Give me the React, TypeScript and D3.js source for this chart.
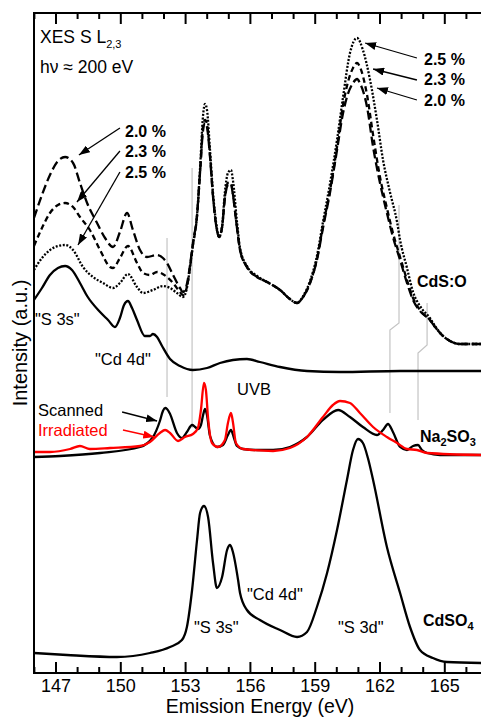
import React from 'react';
import * as d3 from 'd3';

// ---------- DATA (energy eV, intensity a.u.) ----------
const cdsO_20: [number, number][] = [
  [145.98, 455], [146.35, 478], [146.72, 498], [147.09, 512], [147.42, 516], [147.79, 510], [148.11, 490],
  [148.44, 470], [148.9, 450], [149.27, 435], [149.64, 426], [149.96, 441], [150.29, 460], [150.56, 443],
  [150.89, 423], [151.21, 416], [151.68, 418], [151.95, 415], [152.14, 410], [152.42, 398], [152.74, 385],
  [152.88, 381], [153.06, 389], [153.2, 407], [153.34, 430], [153.53, 458], [153.67, 501], [153.81, 543],
  [153.9, 550], [153.99, 546], [154.13, 516], [154.27, 476], [154.45, 443], [154.55, 436], [154.69, 446],
  [154.82, 475], [154.96, 488], [155.1, 489], [155.19, 478], [155.38, 445], [155.52, 423], [155.84, 406],
  [156.31, 396], [156.77, 391], [157.37, 383], [157.83, 374], [158.16, 370], [158.44, 376], [158.76, 390],
  [159.08, 413], [159.36, 445], [159.69, 481], [160.01, 523], [160.29, 560], [160.47, 576], [160.75, 590],
  [160.94, 594], [161.07, 590], [161.4, 566], [161.68, 526], [162.0, 490], [162.32, 460], [162.6, 436],
  [162.93, 413], [163.25, 390], [163.53, 373], [163.85, 362], [164.31, 353], [164.55, 346], [164.87, 338],
  [165.24, 332], [165.7, 329], [166.68, 329],
];

const cdsO_23: [number, number][] = [
  [145.98, 427], [146.35, 445], [146.72, 460], [147.09, 468], [147.42, 470], [147.79, 466], [148.11, 456],
  [148.57, 443], [149.04, 423], [149.5, 406], [149.64, 405], [149.96, 415], [150.33, 427], [150.75, 410],
  [151.03, 400], [151.35, 398], [151.68, 401], [152.14, 396], [152.42, 390], [152.74, 381], [152.88, 378],
  [153.06, 386], [153.2, 405], [153.34, 428], [153.53, 457], [153.67, 501], [153.81, 547], [153.9, 553],
  [153.99, 549], [154.13, 518], [154.27, 477], [154.45, 443], [154.55, 436], [154.69, 446], [154.82, 476],
  [154.96, 490], [155.1, 490], [155.19, 479], [155.38, 445], [155.52, 423], [155.84, 406], [156.31, 396],
  [156.77, 391], [157.37, 383], [157.83, 374], [158.16, 370], [158.44, 376], [158.76, 390], [159.08, 414],
  [159.36, 447], [159.69, 483], [160.01, 526], [160.29, 568], [160.47, 587], [160.75, 605], [160.94, 610],
  [161.07, 606], [161.4, 578], [161.68, 538], [162.0, 496], [162.32, 465], [162.6, 440], [162.93, 416],
  [163.25, 393], [163.53, 375], [163.85, 363], [164.31, 353], [164.55, 346], [164.87, 338], [165.24, 332],
  [165.7, 329], [166.68, 329],
];

const cdsO_25: [number, number][] = [
  [145.98, 403], [146.35, 415], [146.72, 423], [147.09, 427], [147.42, 428], [147.79, 423], [148.25, 406],
  [148.71, 396], [149.18, 390], [149.64, 385], [149.96, 390], [150.33, 399], [150.75, 386], [151.03, 380],
  [151.49, 383], [151.95, 387], [152.28, 385], [152.6, 380], [152.88, 376], [153.06, 385], [153.2, 405],
  [153.34, 428], [153.53, 458], [153.67, 505], [153.81, 558], [153.9, 569], [153.99, 563], [154.13, 523],
  [154.27, 480], [154.45, 445], [154.55, 436], [154.69, 447], [154.82, 481], [154.96, 500], [155.1, 503],
  [155.19, 493], [155.38, 451], [155.52, 425], [155.84, 407], [156.31, 397], [156.77, 391], [157.37, 383],
  [157.83, 374], [158.16, 370], [158.44, 377], [158.76, 392], [159.08, 417], [159.36, 451], [159.69, 490],
  [160.01, 533], [160.29, 576], [160.61, 620], [160.94, 635], [161.21, 623], [161.54, 593], [161.86, 553],
  [162.14, 513], [162.46, 481], [162.79, 451], [162.93, 433], [163.25, 405], [163.53, 381], [163.85, 367],
  [164.31, 355], [164.55, 347], [164.87, 338], [165.24, 332], [165.7, 329], [166.68, 329],
];

const cdsUpperSolid: [number, number][] = [
  [145.98, 373], [146.35, 385], [146.72, 398], [147.09, 405], [147.42, 407], [147.74, 403], [148.11, 390],
  [148.44, 377], [149.04, 361], [149.41, 353], [149.73, 346], [149.96, 355], [150.15, 368], [150.33, 372],
  [150.52, 365], [150.75, 353], [151.12, 337], [151.35, 337], [151.49, 339], [151.68, 336], [151.91, 327],
  [152.28, 314], [152.74, 307], [153.34, 303], [153.99, 305], [154.59, 310], [155.19, 313], [155.84, 314],
  [156.44, 311], [157.37, 306], [158.62, 302], [160.15, 301], [162.93, 302], [166.68, 302],
];

const na2so3Scanned: [number, number][] = [
  [145.98, 216], [147.19, 217], [149.04, 220], [150.89, 226], [151.49, 236], [151.81, 252], [151.95, 262],
  [152.05, 265], [152.14, 264], [152.28, 259], [152.6, 240], [152.83, 235], [153.06, 241], [153.3, 248],
  [153.44, 246], [153.57, 244], [153.71, 248], [153.81, 258], [153.9, 264], [153.99, 258], [154.13, 237],
  [154.45, 226], [154.73, 228], [154.96, 238], [155.1, 243], [155.24, 235], [155.38, 227], [155.66, 224],
  [156.31, 223], [157.05, 223], [157.83, 226], [158.62, 236], [159.36, 253], [160.06, 263], [160.61, 256],
  [161.21, 246], [161.86, 238], [162.14, 243], [162.37, 249], [162.6, 241], [162.93, 226], [163.25, 223],
  [163.53, 227], [163.76, 228], [163.94, 223], [164.18, 220], [164.78, 218], [166.68, 218],
];

const na2so3Irradiated: [number, number][] = [
  [145.98, 221], [146.72, 221], [147.65, 224], [148.11, 227], [148.57, 224], [149.5, 225], [150.89, 227],
  [151.35, 231], [151.81, 240], [152.05, 243], [152.28, 240], [152.65, 232], [152.97, 236], [153.34, 239],
  [153.57, 245], [153.71, 263], [153.85, 290], [153.94, 283], [154.04, 255], [154.22, 230], [154.5, 226],
  [154.82, 233], [154.96, 250], [155.1, 260], [155.19, 251], [155.33, 230], [155.66, 224], [157.05, 222],
  [157.83, 225], [158.62, 236], [159.36, 256], [159.82, 268], [160.15, 272], [160.61, 270], [161.07, 260],
  [161.68, 246], [162.32, 236], [162.79, 230], [163.25, 224], [163.71, 223], [164.18, 220], [166.68, 218],
];

const cdso4: [number, number][] = [
  [145.98, 20], [147.51, 18], [149.82, 16], [151.35, 20], [152.28, 26], [152.83, 33], [153.06, 46],
  [153.3, 83], [153.53, 133], [153.67, 160], [153.85, 167], [154.04, 156], [154.27, 110], [154.45, 85],
  [154.69, 96], [154.92, 123], [155.06, 128], [155.19, 121], [155.43, 93], [155.52, 80], [155.84, 63],
  [156.44, 53], [157.37, 43], [158.16, 36], [158.62, 41], [159.08, 66], [159.55, 100], [160.01, 143],
  [160.47, 193], [160.75, 223], [160.98, 234], [161.21, 230], [161.44, 215], [161.68, 193], [162.32, 126],
  [162.93, 80], [163.39, 46], [163.85, 23], [164.45, 15], [165.1, 11], [166.68, 10],
];

// guide lines (gray) linking features
const guideLines: [number, number][][] = [
  [[152.14, 435], [152.14, 276]],
  [[153.3, 505], [153.3, 245]],
  [[162.88, 468], [162.88, 350], [162.46, 343], [162.46, 260]],
  [[164.18, 370], [164.18, 328], [163.76, 320], [163.76, 253]],
];

const majorTicks = [147, 150, 153, 156, 159, 162, 165];
const minorTicks = [146, 148, 149, 151, 152, 154, 155, 157, 158, 160, 161, 163, 164, 166];

// arrows: from -> to in data coordinates
const arrowsBlack: { from: [number, number]; to: [number, number] }[] = [
  { from: [149.96, 545], to: [148.06, 518] },
  { from: [149.96, 522], to: [147.97, 471] },
  { from: [149.96, 501], to: [148.02, 428] },
  { from: [163.71, 615], to: [161.31, 630] },
  { from: [163.71, 593], to: [161.68, 604] },
  { from: [163.71, 573], to: [161.86, 585] },
  { from: [150.06, 261], to: [151.68, 252] },
];
const arrowsRed: { from: [number, number]; to: [number, number] }[] = [
  { from: [150.1, 243], to: [151.55, 236] },
];

const FONT = "'Liberation Sans', Arial, Helvetica, sans-serif";

export default function App() {
  const left = 34, top = 13, bottom = 673;
  const x = d3.scaleLinear().domain([146, 167]).range([34.4, 488]);
  const y = d3.scaleLinear().domain([0, 660]).range([bottom, top]);
  const line = d3
    .line<[number, number]>()
    .x((d) => x(d[0]))
    .y((d) => y(d[1]))
    .curve(d3.curveMonotoneX);
  const poly = d3
    .line<[number, number]>()
    .x((d) => x(d[0]))
    .y((d) => y(d[1]));

  const arrow = (a: { from: [number, number]; to: [number, number] }, i: number, color: string, mk: string) => (
    <line
      key={mk + i}
      x1={x(a.from[0])}
      y1={y(a.from[1])}
      x2={x(a.to[0])}
      y2={y(a.to[1])}
      stroke={color}
      strokeWidth={1.3}
      markerEnd={`url(#${mk})`}
    />
  );

  return (
    <svg
      width={481}
      height={717}
      style={{ position: 'absolute', left: 0, top: 0, background: '#fff' }}
      fontFamily={FONT}
    >
      <defs>
        <clipPath id="plotClip">
          <rect x={left} y={top} width={460} height={bottom - top} />
        </clipPath>
        <marker id="ahb" markerUnits="userSpaceOnUse" markerWidth={11} markerHeight={8} refX={11} refY={4} orient="auto">
          <path d="M0,0 L11,4 L0,8 z" fill="#000" />
        </marker>
        <marker id="ahr" markerUnits="userSpaceOnUse" markerWidth={11} markerHeight={8} refX={11} refY={4} orient="auto">
          <path d="M0,0 L11,4 L0,8 z" fill="#f00" />
        </marker>
      </defs>
      <rect x={0} y={0} width={481} height={717} fill="#fff" />

      {/* gray guide lines */}
      <g stroke="#c4c4c4" strokeWidth={1.2} fill="none">
        {guideLines.map((g, i) => (
          <path key={i} d={poly(g) || ''} />
        ))}
      </g>

      <g clipPath="url(#plotClip)" fill="none" strokeLinejoin="round">
        <path d={line(cdsUpperSolid) || ''} stroke="#000" strokeWidth={2.3} />
        <path d={line(cdsO_20) || ''} stroke="#000" strokeWidth={2.3} strokeDasharray="9,4" />
        <path d={line(cdsO_23) || ''} stroke="#000" strokeWidth={2.3} strokeDasharray="5.5,3.5" />
        <path d={line(cdsO_25) || ''} stroke="#000" strokeWidth={2.3} strokeDasharray="2,1.6" />
        <path d={line(na2so3Scanned) || ''} stroke="#000" strokeWidth={2.3} />
        <path d={line(na2so3Irradiated) || ''} stroke="#f00" strokeWidth={2.3} />
        <path d={line(cdso4) || ''} stroke="#000" strokeWidth={2.3} />
      </g>

      {/* axes frame */}
      <g stroke="#000" strokeWidth={2}>
        <line x1={left} y1={top} x2={481} y2={top} />
        <line x1={left} y1={top - 1} x2={left} y2={bottom + 1} />
        <line x1={left} y1={bottom} x2={481} y2={bottom} />
        {majorTicks.map((t) => (
          <g key={'M' + t}>
            <line x1={x(t)} x2={x(t)} y1={bottom} y2={bottom - 11} />
            <line x1={x(t)} x2={x(t)} y1={top} y2={top + 11} />
          </g>
        ))}
        {minorTicks.map((t) => (
          <g key={'m' + t}>
            <line x1={x(t)} x2={x(t)} y1={bottom} y2={bottom - 6} />
            <line x1={x(t)} x2={x(t)} y1={top} y2={top + 6} />
          </g>
        ))}
      </g>
      {majorTicks.map((t) => (
        <text key={'l' + t} x={x(t)} y={692} fontSize={18} textAnchor="middle" fill="#000">
          {t}
        </text>
      ))}
      <text x={260} y={713} fontSize={19.5} textAnchor="middle" fill="#000">
        Emission Energy (eV)
      </text>
      <text transform="translate(27,343) rotate(-90)" fontSize={20} textAnchor="middle" fill="#000">
        Intensity (a.u.)
      </text>

      {/* header */}
      <text x={40} y={43} fontSize={17.5} fill="#000">
        XES S L<tspan dy={5} fontSize={11}>2,3</tspan>
      </text>
      <text x={40} y={73} fontSize={17.5} fill="#000">
        hν ≈ 200 eV
      </text>

      {/* percent labels */}
      <g fontSize={16} fontWeight="bold" fill="#000">
        <text x={125} y={137}>2.0 %</text>
        <text x={125} y={157}>2.3 %</text>
        <text x={125} y={178}>2.5 %</text>
        <text x={424} y={65}>2.5 %</text>
        <text x={424} y={85}>2.3 %</text>
        <text x={424} y={106}>2.0 %</text>
        <text x={417} y={287}>CdS:O</text>
        <text x={420} y={442}>
          Na<tspan dy={4} fontSize={11}>2</tspan>
          <tspan dy={-4}>SO</tspan>
          <tspan dy={4} fontSize={11}>3</tspan>
        </text>
        <text x={423} y={626}>
          CdSO<tspan dy={4} fontSize={11}>4</tspan>
        </text>
      </g>

      {/* arrows */}
      {arrowsBlack.map((a, i) => arrow(a, i, '#000', 'ahb'))}
      {arrowsRed.map((a, i) => arrow(a, i, '#f00', 'ahr'))}

      {/* feature labels */}
      <g fontSize={16.5} fill="#000">
        <text x={35} y={325}>"S 3s"</text>
        <text x={95} y={365}>"Cd 4d"</text>
        <text x={237} y={395}>UVB</text>
        <text x={38} y={416}>Scanned</text>
        <text x={38} y={436} fill="#f00">Irradiated</text>
        <text x={194} y={633}>"S 3s"</text>
        <text x={247} y={600}>"Cd 4d"</text>
        <text x={338} y={633}>"S 3d"</text>
      </g>
    </svg>
  );
}
